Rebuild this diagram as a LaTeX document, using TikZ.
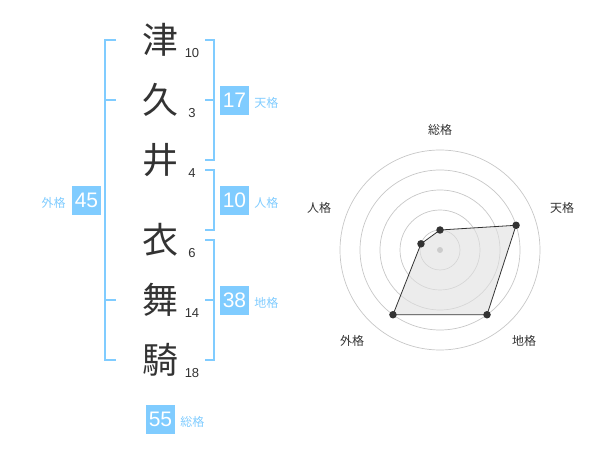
\documentclass[tikz,border=0pt]{standalone}
\usepackage{fontspec}
\setmainfont{Liberation Sans}
\newfontfamily\jpfont{Noto Sans CJK JP}
\usetikzlibrary{positioning}
\definecolor{kakucolor}{RGB}{128,204,255}
\definecolor{inkcolor}{RGB}{51,51,51}
\begin{document}
\begin{tikzpicture}[x=1pt, y=-1pt,
    kanji/.style={font=\jpfont\fontsize{36}{36}\selectfont, text=inkcolor, inner sep=0pt},
    strokes/.style={font=\fontsize{13}{13}\selectfont, text=inkcolor, inner sep=0pt},
    kakubox/.style={fill=kakucolor, text=white, minimum size=29pt, inner sep=0pt, font=\fontsize{21}{21}\selectfont},
    kakulabel/.style={text=kakucolor, font=\jpfont\fontsize{12}{12}\selectfont, inner sep=0pt, yshift=-2.5pt},
    bracket/.style={draw=kakucolor, line width=1.8pt},
    ring/.style={draw=black!22, line width=0.7pt},
    axislabel/.style={font=\jpfont\fontsize{12}{12}\selectfont, text=inkcolor, inner sep=0pt},
    vertex/.style={circle, fill=inkcolor, inner sep=0pt, minimum size=7.5pt}]

    \useasboundingbox (0,0) rectangle (600,470);

    % Name characters with stroke counts
    \foreach \i/\ch/\n/\y in {1/津/10/40, 2/久/3/100, 3/井/4/160, 4/衣/6/240, 5/舞/14/300, 6/騎/18/360} {
        \node[kanji] (c\i) at (160, \y) {\ch};
        \node[strokes] (n\i) at (192, \y+13) {\n};
    }

    % Outer bracket (gaikaku)
    \draw[bracket] (116, 40) -- (105, 40) -- (105, 360) -- (116, 360);
    \draw[bracket] (105, 100) -- (116, 100);
    \draw[bracket] (105, 300) -- (116, 300);

    % Right brackets
    \draw[bracket] (205, 40) -- (214, 40) -- (214, 160) -- (205, 160);
    \draw[bracket] (214, 100) -- (205, 100);
    \draw[bracket] (205, 170) -- (214, 170) -- (214, 230) -- (205, 230);
    \draw[bracket] (205, 240) -- (214, 240) -- (214, 360) -- (205, 360);
    \draw[bracket] (214, 300) -- (205, 300);

    % Totals
    \node[kakubox] (ten) at (234.5, 100.5) {17};
    \node[kakulabel, right=5pt of ten] (tenlab) {天格};
    \node[kakubox] (jin) at (234.5, 200.5) {10};
    \node[kakulabel, right=5pt of jin] (jinlab) {人格};
    \node[kakubox] (chi) at (234.5, 300.5) {38};
    \node[kakulabel, right=5pt of chi] (chilab) {地格};
    \node[kakubox] (gai) at (86.5, 200.5) {45};
    \node[kakulabel, left=6pt of gai] (gailab) {外格};
    \node[kakubox] (sou) at (160.5, 419) {55};
    \node[kakulabel, right=5pt of sou] (soulab) {総格};

    % Radar chart
    \coordinate (ctr) at (440, 250);
    \foreach \r in {20, 40, 60, 80, 100} {
        \draw[ring] (ctr) circle (\r);
    }
    \foreach \k/\a/\r in {1/-90/20, 2/-18/80, 3/54/80, 4/126/80, 5/198/20} {
        \path (ctr) ++(\a:\r) coordinate (p\k);
    }
    \fill[black!12, opacity=0.6] (p1) -- (p2) -- (p3) -- (p4) -- (p5) -- cycle;
    \draw[inkcolor, line width=0.8pt] (p1) -- (p2) -- (p3) -- (p4) -- (p5) -- cycle;
    \foreach \k in {1,...,5} {
        \node[vertex] (v\k) at (p\k) {};
    }
    \node[circle, fill=black!20, inner sep=0pt, minimum size=6pt] (mid) at (ctr) {};

    % Axis labels
    \node[axislabel] (ax1) at (440, 130) {総格};
    \node[axislabel] (ax2) at (562, 208) {天格};
    \node[axislabel] (ax3) at (524, 341) {地格};
    \node[axislabel] (ax4) at (352, 341) {外格};
    \node[axislabel] (ax5) at (319, 208) {人格};

\end{tikzpicture}
\end{document}
